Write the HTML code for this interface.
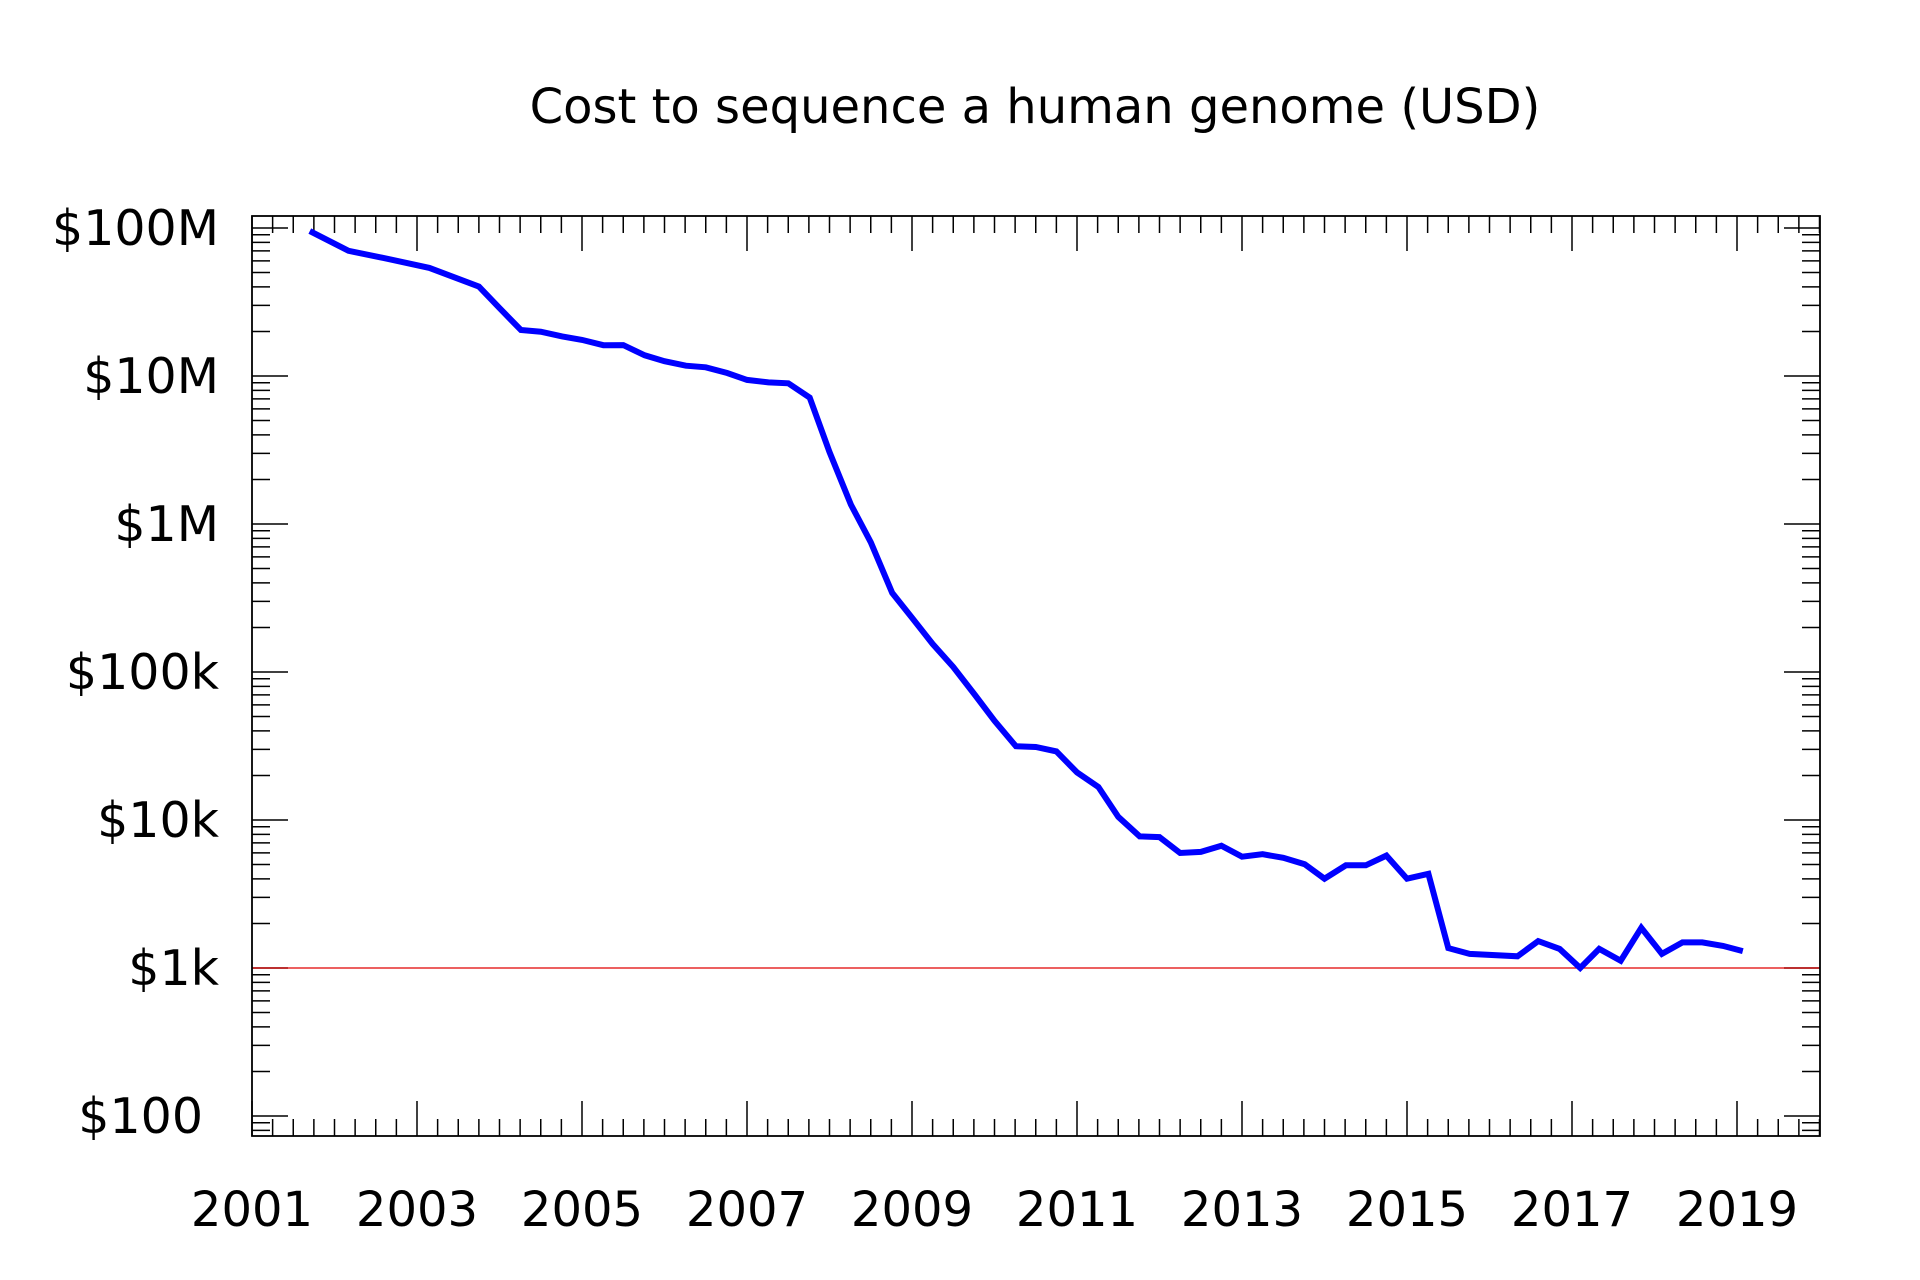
<!DOCTYPE html>
<html><head><meta charset="utf-8"><style>
html,body{margin:0;padding:0;background:#fff;}
svg{display:block;font-family:"DejaVu Sans","Liberation Sans",sans-serif;}
</style></head><body>
<svg id="chart" width="1920" height="1280" viewBox="0 0 1920 1280" xmlns="http://www.w3.org/2000/svg">
<rect x="0" y="0" width="1920" height="1280" fill="#fff"/>
<text x="1035" y="123" font-size="48" text-anchor="middle">Cost to sequence a human genome (USD)</text>
<g id="ticks"></g>
<g id="labels"></g>
<line id="ref" stroke="#e00000" stroke-width="1.3"/>
<polyline id="series" fill="none" stroke="#0000ff" stroke-width="6" stroke-linejoin="miter"/>
<rect x="252" y="216" width="1568" height="920" fill="none" stroke="#000" stroke-width="1.8"/>
</svg>
<script>
const dates = [2001.70,2002.17,2002.67,2003.15,2003.75,2004.0,2004.26,2004.5,2004.76,2005.0,2005.26,2005.5,2005.76,2006.0,2006.26,2006.5,2006.76,2007.0,2007.26,2007.5,2007.76,2008.0,2008.26,2008.5,2008.76,2009.0,2009.25,2009.5,2009.76,2010.0,2010.26,2010.5,2010.75,2011.0,2011.26,2011.5,2011.76,2012.0,2012.25,2012.5,2012.75,2013.0,2013.25,2013.5,2013.76,2014.0,2014.26,2014.5,2014.75,2015.0,2015.26,2015.5,2015.76,2016.34,2016.59,2016.85,2017.1,2017.33,2017.59,2017.84,2018.09,2018.34,2018.58,2018.83,2019.07];
const costs = [95263072,70175437,61448422,53751684,40157554,28780376,20442576,19934346,18519312,17534970,16159699,16180224,13801124,12585659,11732535,11455315,10474556,9408739,9047003,8927342,7147571,3063820,1352982,752080,342502,232735,154714,108065,70333,46774,31512,31125,29092,20963,16712,10497,7743,7666,5980,6090,6700,5650,5870,5550,5030,4010,4940,4940,5750,4010,4330,1363,1245,1200,1520,1346,1000,1346,1120,1870,1245,1490,1490,1410,1300];
const xTickYears = [2001,2003,2005,2007,2009,2011,2013,2015,2017,2019];
const yTickValues = [100,1000,10000,100000,1000000,10000000,100000000];
const yTickLabels = ["$100","$1k","$10k","$100k","$1M","$10M","$100M"];
const refValue = 1000;

const L=252,R=1820,T=216,B=1136;
function xs(y){return L+(y-2001)*82.5;}
function ys(v){return 228+(8-Math.log10(v))*148;}
const NS="http://www.w3.org/2000/svg";
const tg=document.getElementById('ticks'), lg=document.getElementById('labels');
function ln(x1,y1,x2,y2,name){const l=document.createElementNS(NS,'line');
l.setAttribute('x1',x1);l.setAttribute('y1',y1);l.setAttribute('x2',x2);l.setAttribute('y2',y2);
l.setAttribute('stroke','#000');l.setAttribute('stroke-width','1.5');


tg.appendChild(l);}
for(let q=0;q<=76;q++){const yr=2001+q/4;const x=xs(yr);if(x<L||x>R)continue;
 const major=(q%8===0);const len=major?35:17;
 ln(x,B,x,B-len,major?'x-major-tick':'x-minor-tick');ln(x,T,x,T+len,major?'x-major-tick-top':'x-minor-tick-top');}
for(let e=1;e<=8;e++){for(let m=1;m<=9;m++){const v=m*Math.pow(10,e);const y=ys(v);if(y<T||y>B)continue;
 const major=(m===1);const len=major?36:18;
 ln(L,y,L+len,y,major?'y-major-tick':'y-minor-tick');ln(R,y,R-len,y,major?'y-major-tick-right':'y-minor-tick-right');}}
yTickValues.forEach((v,i)=>{const t=document.createElementNS(NS,'text');
 t.setAttribute('x',i===0?203:219);t.setAttribute('y',ys(v)+17);t.setAttribute('font-size','49');t.setAttribute('text-anchor','end');
 t.textContent=yTickLabels[i];
 
 
 lg.appendChild(t);});
xTickYears.forEach(yr=>{const t=document.createElementNS(NS,'text');
 t.setAttribute('x',xs(yr));t.setAttribute('y',1226);t.setAttribute('font-size','48');t.setAttribute('text-anchor','middle');
 t.textContent=String(yr);
 
 
 lg.appendChild(t);});
const ref=document.getElementById('ref');
ref.setAttribute('x1',L);ref.setAttribute('x2',R);ref.setAttribute('y1',ys(refValue));ref.setAttribute('y2',ys(refValue));
document.getElementById('series').setAttribute('points',dates.map((d,i)=>xs(d).toFixed(1)+','+ys(costs[i]).toFixed(1)).join(' '));
</script>
</body></html>
